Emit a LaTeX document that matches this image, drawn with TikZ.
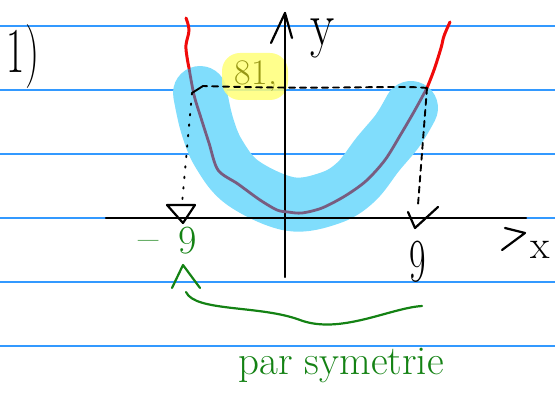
\documentclass[tikz,border=0pt]{standalone}
\usepackage{fontspec}
\usetikzlibrary{calc}
\definecolor{ruleblue}{RGB}{51,153,255}
\definecolor{hlblue}{RGB}{128,221,252}
\definecolor{hlyellow}{RGB}{255,255,120}
\definecolor{curvepurple}{RGB}{120,92,128}
\definecolor{penred}{RGB}{240,10,10}
\definecolor{pengreen}{RGB}{20,130,20}
\definecolor{penolive}{RGB}{150,150,20}
\tikzset{
  ruleline/.style={draw=ruleblue, line width=1.2pt},
  pen/.style={line width=2.2pt, line cap=round, line join=round},
  dashpen/.style={pen, line width=1.9pt, dash pattern=on 6pt off 5pt},
  dotpen/.style={pen, line width=1.9pt, dash pattern=on 1.5pt off 9pt},
  label/.style={inner sep=0pt, outer sep=0pt}
}
\begin{document}
\begin{tikzpicture}[x=1pt,y=-1pt]
\useasboundingbox (0,0) rectangle (555,398);
% ruled lines
\foreach \yy in {26,90,154,218,282,346} \draw[ruleline] (0,\yy) -- (555,\yy);
% blue highlight band
\draw[hlblue, line width=54pt, line cap=round, line join=round]
  plot[smooth, tension=0.6] coordinates {(200,93) (207,125) (219,154) (243,183) (290,204) (330,198) (356,182) (378,154) (398,130) (411,108)};
% yellow highlight
\fill[hlyellow, opacity=0.85, rounded corners=18pt] (222,53) rectangle (288,100);
% axes
\coordinate (xl) at (106,218);
\coordinate (xr) at (526,218);
\coordinate (yb) at (285,277);
\coordinate (yt) at (285,13);
\draw[pen] (xl) -- (xr);
\draw[pen] (yb) -- (yt);
\coordinate (xa1) at (505,228); \coordinate (xa2) at (525,233); \coordinate (xa3) at (502,250);
\draw[pen] (xa1) -- (xa2) -- (xa3);
\coordinate (ya1) at (271,43); \coordinate (ya2) at (292,38);
\draw[pen] (ya1) -- (yt) -- (ya2);
% curve
\coordinate (pl) at (189,68);
\coordinate (pr) at (427,88);
\draw[curvepurple, line width=2.8pt, line cap=round, line join=round]
  plot[smooth, tension=0.5] coordinates {(189,68) (194,95) (201,118) (209,143) (218,170) (238,184) (260,200) (277,210) (288,212) (302,213) (322,208) (345,196) (366,181) (385,160) (401,134) (415,110) (427,88)};
\draw[penred, line width=3pt, line cap=round]
  plot[smooth, tension=0.6] coordinates {(186,18) (189,30) (186,45) (187,57) (189,68)};
\draw[penred, line width=3pt, line cap=round]
  plot[smooth, tension=0.6] coordinates {(427,88) (434,70) (441,48) (444,36) (450,22)};
% dashed guides
\coordinate (dl) at (203,86);
\draw[dashpen] (pr) .. controls (400,85) and (330,90) .. (dl);
\coordinate (hook) at (192,93);
\draw[pen, line width=1.9pt] (dl) -- (hook);
\coordinate (lb) at (182,204);
\draw[dotpen] (hook) -- (lb);
\coordinate (rb) at (418,205);
\draw[dashpen] (pr) -- (rb);
% arrowheads on the axis
\coordinate (t1) at (167,205); \coordinate (t2) at (195,205); \coordinate (t3) at (183,223);
\draw[pen] (t1) -- (t2) -- (t3) -- cycle;
\coordinate (v1) at (408,212); \coordinate (v2) at (415,228); \coordinate (v3) at (438,207);
\draw[pen] (v1) -- (v2) -- (v3);
% labels
\node[label, font=\fontsize{64}{68}\selectfont] (one) at (23,57) {\scalebox{0.62}[1]{1)}};
\node[label, font=\fontsize{62}{66}\selectfont, anchor=base] (ylab) at (323,46) {\scalebox{0.8}[1]{y}};
\node[label, font=\fontsize{40}{44}\selectfont] (xlab) at (540,250) {x};
\node[label, penolive, font=\fontsize{36}{40}\selectfont] (val) at (256,76) {81,};
\node[label, pengreen, font=\fontsize{44}{48}\selectfont] (minus) at (149,246) {–};
\node[label, pengreen, font=\fontsize{40}{44}\selectfont] (ng) at (188,241) {9};
\node[label, font=\fontsize{36}{40}\selectfont] (nb) at (418,262) {\scalebox{1}[1.7]{9}};
% green symmetry arrow
\coordinate (g1) at (172,288); \coordinate (g2) at (183,265); \coordinate (g3) at (200,288);
\draw[pengreen, pen] (g1) -- (g2) -- (g3);
\coordinate (c0) at (186,292); \coordinate (c1) at (422,306);
\draw[pengreen, pen] (c0) .. controls (195,312) and (260,305) .. (300,320)
  .. controls (340,335) and (390,308) .. (c1);
\node[label, pengreen, font=\fontsize{41}{45}\selectfont, anchor=base] (par) at (341,375) {par symetrie};
\end{tikzpicture}
\end{document}
